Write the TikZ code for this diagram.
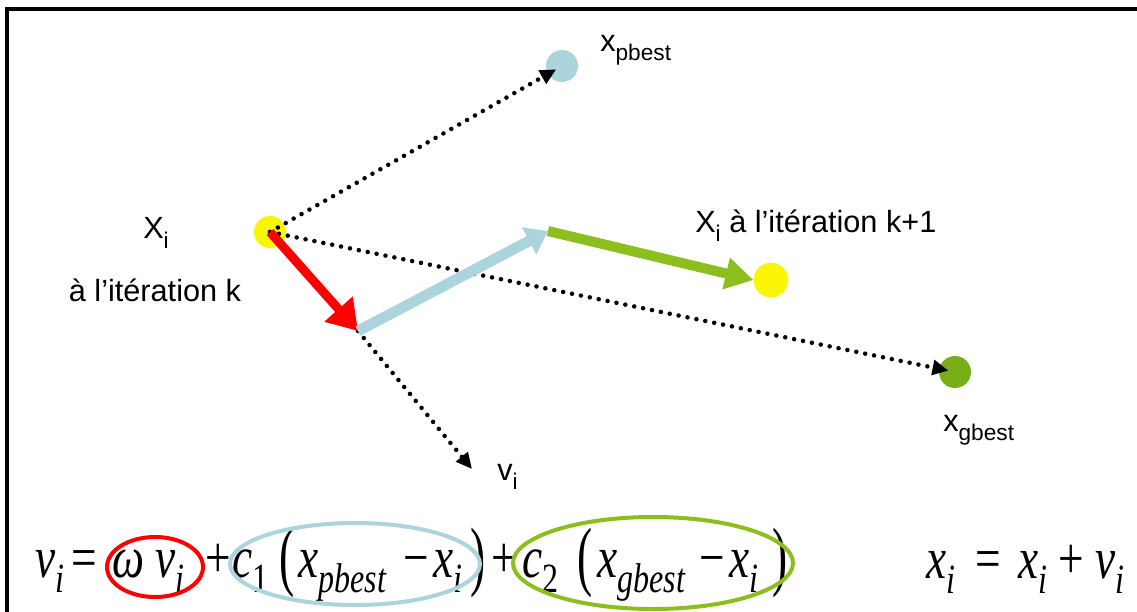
\documentclass[tikz,border=0pt]{standalone}
\usepackage{fontspec}
\setsansfont{Liberation Sans}
\newfontfamily\tnr{Liberation Serif}
\newfontfamily\tnri{Liberation Serif Italic}
\usetikzlibrary{arrows.meta}
\definecolor{dotyellow}{RGB}{250,245,0}
\definecolor{lblue}{RGB}{172,212,220}
\definecolor{lgreen}{RGB}{140,190,30}
\definecolor{dgreen}{RGB}{120,175,25}
\newcommand\lsub[1]{\raisebox{-0.3em}{\fontsize{17}{17}\selectfont #1}}
\newcommand\sq[1]{\scalebox{1}[1.3]{#1}}
\newcommand\ev[2]{\sq{{\tnri #1}\raisebox{-0.27em}{\tnri\fontsize{24}{24}\selectfont #2}}}
\newcommand\en[2]{\sq{{\tnri #1}\raisebox{-0.27em}{\tnr\fontsize{24}{24}\selectfont #2}}}
\tikzset{
  dotnode/.style={circle,inner sep=0pt,minimum size=#1},
  dotline/.style={line width=3.4pt,dash pattern=on 0pt off 6.8pt,line cap=round,-{Triangle[length=12pt,width=11pt]}},
  redarrow/.style={red,line width=6.75pt,-{Triangle[length=22pt,width=27pt]}},
  bluearrow/.style={lblue,line width=8pt,-{Triangle[length=16pt,width=22pt]}},
  greenarrow/.style={lgreen,line width=7.5pt,-{Triangle[length=21pt,width=23pt]}},
  lab/.style={font=\sffamily\fontsize{23}{26}\selectfont,inner sep=0pt},
  eq/.style={font=\tnr\fontsize{34}{34}\selectfont,inner sep=0pt,anchor=base west},
  par/.style={font=\tnr\fontsize{34}{34}\selectfont,inner sep=0pt,anchor=center},
  ring/.style={line width=3pt},
}
\begin{document}
\begin{tikzpicture}[x=0.75pt,y=-0.75pt]
\useasboundingbox (0,0) rectangle (1137,611);
\clip (0,0) rectangle (1137,611);
\fill[white] (0,0) rectangle (1137,611);
\draw[line width=2.5pt] (7,9) rectangle (1150,630);
% dots
\node[dotnode=24pt,fill=dotyellow] (xi) at (270,232) {};
\node[dotnode=24pt,fill=lblue] (pb) at (562,66) {};
\node[dotnode=26pt,fill=dotyellow] (xn) at (771,280) {};
\node[dotnode=24pt,fill=dgreen] (gb) at (955,372) {};
\coordinate (p1) at (358,331);
\coordinate (p2) at (548,231);
\coordinate (vend) at (472,469);
% dotted arrows
\draw[dotline,shorten >=5pt] (xi.center) -- (pb.center);
\draw[dotline,shorten >=5pt] (xi.center) -- (gb.center);
\draw[dotline] (p1) -- (vend);
% thick arrows
\draw[redarrow] (xi.center) -- (p1);
\draw[bluearrow] (p1) -- (p2);
\draw[greenarrow] (p2) -- (xn.west);
% labels
\node[lab] (lxi) at (156,233) {X\lsub{i}};
\node[lab] (lk) at (155,290) {à l'itération k};
\node[lab,anchor=west] (lk1) at (695,226) {X\lsub{i} à l'itération k+1};
\node[lab,anchor=west] (lpb) at (600,50) {x\lsub{pbest}};
\node[lab,anchor=west] (lgb) at (943,430) {x\lsub{gbest}};
\node[lab,anchor=west] (lv) at (497,477) {v\lsub{i}};
% equation 1
\node[eq] (e1) at (35,577) {\ev{v}{i}};
\node[eq] (e2) at (71,577) {\sq{=}};
\node[eq] (e3) at (112,577) {\sq{\tnri ω}};
\node[eq] (e4) at (155,577) {\ev{v}{i}};
\node[eq] (e5) at (205,577) {\sq{+}};
\node[eq] (e6) at (232,577) {\en{c}{1}};
\node[par] (e7) at (287,563) {\scalebox{1}[1.7]{(}};
\node[eq] (e8) at (298,577) {\ev{x}{pbest}};
\node[eq] (e9) at (403,577) {\sq{−}};
\node[eq] (e10) at (433,577) {\ev{x}{i}};
\node[par] (e11) at (478,563) {\scalebox{1}[1.7]{)}};
\node[eq] (e12) at (491,577) {\sq{+}};
\node[eq] (e13) at (522,577) {\en{c}{2}};
\node[par] (e14) at (585,563) {\scalebox{1}[1.7]{(}};
\node[eq] (e15) at (597,577) {\ev{x}{gbest}};
\node[eq] (e16) at (699,577) {\sq{−}};
\node[eq] (e17) at (729,577) {\ev{x}{i}};
\node[par] (e18) at (780,563) {\scalebox{1}[1.7]{)}};
% equation 2
\node[eq] (f1) at (926,578) {\ev{x}{i}};
\node[eq] (f2) at (975,578) {\sq{=}};
\node[eq] (f3) at (1018,578) {\ev{x}{i}};
\node[eq] (f4) at (1058,578) {\sq{+}};
\node[eq] (f5) at (1095,578) {\ev{v}{i}};
% rings
\draw[ring,red] (155,567) ellipse [x radius=48, y radius=30];
\draw[ring,lblue] (355,564) ellipse [x radius=125, y radius=41];
\draw[ring,lgreen] (653,563) ellipse [x radius=140, y radius=46];
\end{tikzpicture}
\end{document}
